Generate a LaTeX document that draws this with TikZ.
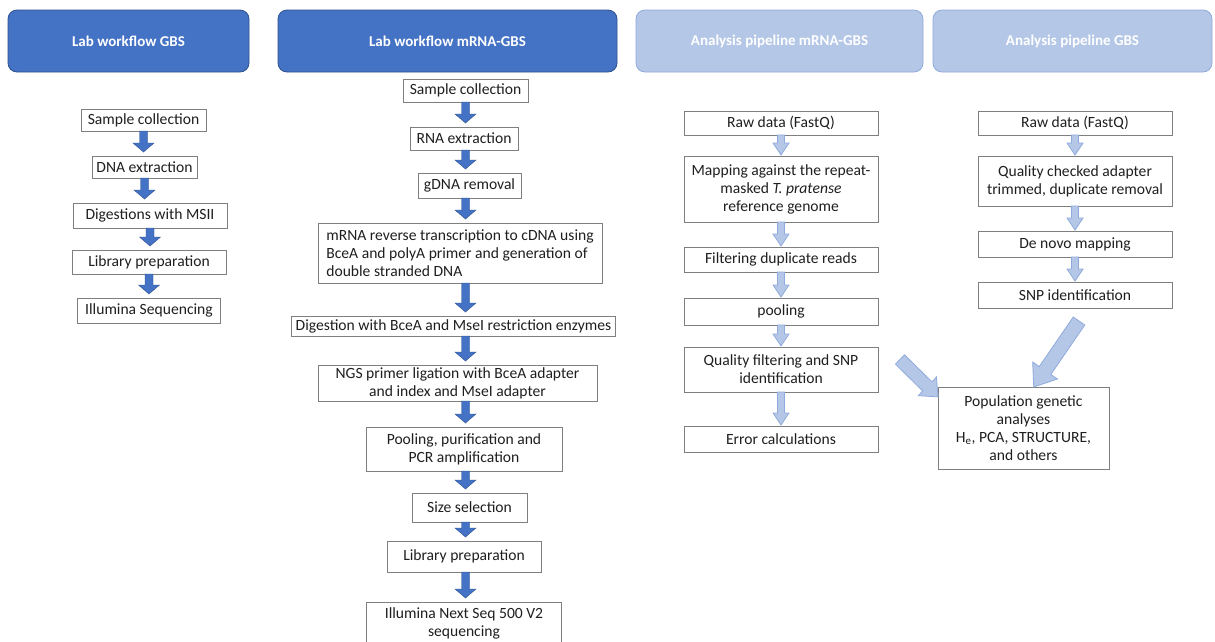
\documentclass[tikz,border=0pt]{standalone}
\usepackage{fontspec}
\setmainfont{Carlito}
\usepackage{tikz}
\usetikzlibrary{positioning,calc}
\definecolor{labblue}{HTML}{4472C4}
\definecolor{labedge}{HTML}{2F528F}
\definecolor{anablue}{HTML}{B4C7E7}
\definecolor{anaedge}{HTML}{8FAADC}
\definecolor{boxedge}{HTML}{7F7F7F}
\definecolor{boxtext}{HTML}{1F1F1F}
\tikzset{%
  fat shaft/.store in=\fatshaft, fat head/.store in=\fathead,
  fat len/.store in=\fatlen, fat gap/.store in=\fatgap,
  fat shaft=3.5pt, fat head=8pt, fat len=11pt, fat gap=0pt,
  fat/.style={to path={
      ($(\tikztotarget)!\fatgap!(\tikztostart)$) coordinate (fat-b)
      ($(fat-b)!\fatlen!(\tikztostart)$) coordinate (fat-c)
      ($(\tikztostart)!\fatshaft!90:(fat-b)$)
      -- ($(fat-c)!\fatshaft!90:(fat-b)$) -- ($(fat-c)!\fathead!90:(fat-b)$)
      -- (fat-b)
      -- ($(fat-c)!\fathead!-90:(fat-b)$) -- ($(fat-c)!\fatshaft!-90:(fat-b)$)
      -- ($(\tikztostart)!\fatshaft!-90:(fat-b)$) -- cycle}}%
}

\begin{document}
\begin{tikzpicture}[
    x=1pt, y=-1pt,
    box/.style={
        draw=boxedge,
        line width=0.8pt,
        fill=white,
        text=boxtext,
        align=center,
        inner xsep=4pt,
        inner ysep=2pt,
        outer sep=0pt,
        font=\fontsize{15.6}{18}\selectfont
    },
    head/.style={
        draw=labedge,
        fill=labblue,
        line width=0.8pt,
        rounded corners=9pt,
        text=white,
        minimum height=62pt,
        font=\bfseries\fontsize{15}{18}\selectfont
    },
    anahead/.style={head, draw=anaedge, fill=anablue},
    darrow/.style={fat, draw=labedge, fill=labblue, line width=0.4pt,
        fat shaft=4pt, fat head=10.5pt, fat len=9pt, fat gap=4pt},
    larrow/.style={fat, draw=anaedge, fill=anablue, line width=0.8pt,
        fat shaft=3.5pt, fat head=8pt, fat len=12pt, fat gap=1pt},
    bigarrow/.style={larrow, fat shaft=7pt, fat head=15pt, fat len=20pt, fat gap=0pt}
]
\fill[white] (0,0) rectangle (1215,641);
\useasboundingbox (0,0) rectangle (1215,641);

\node[head, minimum width=241pt] (hlab) at (128.5,41) {Lab workflow GBS};
\node[head, minimum width=339pt] (hmrna) at (447.5,41) {Lab workflow mRNA-GBS};
\node[anahead, minimum width=287pt] (hanam) at (779.5,41) {Analysis pipeline mRNA-GBS};
\node[anahead, minimum width=279pt] (hanag) at (1072.5,41) {Analysis pipeline GBS};

\node[box, anchor=north, minimum width=125pt, minimum height=22pt] (gsample) at (143.5,109)
{Sample collection};
\node[box, below=25pt of gsample, minimum width=105pt, minimum height=22pt, xshift=1pt] (gdna)
{DNA extraction};
\node[box, below=25pt of gdna, minimum width=154pt, minimum height=25pt, xshift=5.5pt] (gdigest)
{Digestions with MSII};
\node[box, below=22pt of gdigest, minimum width=154pt, minimum height=24pt, xshift=-1pt] (glib)
{Library preparation};
\node[box, below=24pt of glib, minimum width=143pt, minimum height=25pt] (gseq)
{Illumina Sequencing};

\node[box, anchor=north, minimum width=125pt, minimum height=23pt] (msample) at (465.5,79)
{Sample collection};
\node[box, below=25pt of msample, minimum width=108pt, minimum height=23pt, xshift=-1.5pt] (mrna)
{RNA extraction};
\node[box, below=23pt of mrna, minimum width=103pt, minimum height=25pt, xshift=5.5pt] (mgdna)
{gDNA removal};
\node[box, below=25pt of mgdna, minimum width=284pt, minimum height=60pt, align=left, xshift=-9.5pt] (mrt)
{mRNA reverse transcription to cDNA using\\BceA and polyA primer and generation of\\double stranded DNA};
\node[box, below=33pt of mrt, minimum width=323pt, minimum height=20pt, xshift=-6.5pt] (mdigest)
{Digestion with BceA and MseI restriction enzymes};
\node[box, below=29pt of mdigest, minimum width=279pt, minimum height=36pt, xshift=4pt] (mligate)
{NGS primer ligation with BceA adapter\\and index and MseI adapter};
\node[box, below=26pt of mligate, minimum width=196pt, minimum height=44pt, xshift=6.5pt] (mpool)
{Pooling, purification and\\PCR amplification};
\node[box, below=22pt of mpool, minimum width=115pt, minimum height=29pt, xshift=5.5pt] (msize)
{Size selection};
\node[box, below=19pt of msize, minimum width=154pt, minimum height=31pt, xshift=-5.5pt] (mlib)
{Library preparation};
\node[box, below=30pt of mlib, minimum width=195pt, minimum height=45pt] (mseq)
{\rule{0pt}{14pt}Illumina Next Seq 500 V2\\sequencing\rule[-16pt]{0pt}{16pt}};

% analysis pipelines
\node[box, anchor=north, minimum width=194pt, minimum height=24pt] (araw) at (781,111)
{Raw data (FastQ)};
\node[box, below=21pt of araw, minimum width=194pt, minimum height=66pt] (amap)
{Mapping against the repeat-\\masked \textit{T. pratense}\\reference genome};
\node[box, below=25pt of amap, minimum width=194pt, minimum height=25pt] (afilter)
{Filtering duplicate reads};
\node[box, below=26pt of afilter, minimum width=194pt, minimum height=27pt] (apool)
{pooling};
\node[box, below=22pt of apool, minimum width=194pt, minimum height=45pt] (aqual)
{Quality filtering and SNP\\identification};
\node[box, below=34pt of aqual, minimum width=194pt, minimum height=26pt] (aerror)
{Error calculations};

\node[box, anchor=north, minimum width=194pt, minimum height=24pt] (braw) at (1075,111)
{Raw data (FastQ)};
\node[box, below=21pt of braw, minimum width=194pt, minimum height=50pt] (bqual)
{Quality checked adapter\\trimmed, duplicate removal};
\node[box, below=25pt of bqual, minimum width=194pt, minimum height=26pt] (bnovo)
{De novo mapping};
\node[box, below=25pt of bnovo, minimum width=194pt, minimum height=26pt] (bsnp)
{SNP identification};
\node[box, below=79pt of bsnp, minimum width=171pt, minimum height=82pt, xshift=-51.5pt] (popgen)
{Population genetic\\analyses\\H\textsubscript{e}, PCA, STRUCTURE,\\and others};

\coordinate (qtail) at ($(aqual.east)+(22,-10)$);
\coordinate (stail) at ($(bsnp.south)+(4,13)$);

\draw[darrow] (gsample.south) to (gsample.south |- gdna.north);
\draw[darrow] (gdna.south) to (gdna.south |- gdigest.north);
\draw[darrow] (gdigest.south) to (gdigest.south |- glib.north);
\draw[darrow] (glib.south) to (glib.south |- gseq.north);

\draw[darrow] (msample.south) to (msample.south |- mrna.north);
\draw[darrow] (mrna.south -| msample.south) to (msample.south |- mgdna.north);
\draw[darrow] (mgdna.south -| msample.south) to (msample.south |- mrt.north);
\draw[darrow] (mrt.south -| msample.south) to (msample.south |- mdigest.north);
\draw[darrow] (mdigest.south -| msample.south) to (msample.south |- mligate.north);
\draw[darrow] (mligate.south -| msample.south) to (msample.south |- mpool.north);
\draw[darrow] (mpool.south -| msample.south) to (msample.south |- msize.north);
\draw[darrow] (msize.south -| msample.south) to (msample.south |- mlib.north);
\draw[darrow] (mlib.south -| msample.south) to (msample.south |- mseq.north);

\draw[larrow] (araw.south) to (amap.north);
\draw[larrow] (amap.south) to (afilter.north);
\draw[larrow] (afilter.south) to (apool.north);
\draw[larrow] (apool.south) to (aqual.north);
\draw[larrow] (aqual.south) to (aerror.north);

\draw[larrow] (braw.south) to (bqual.north);
\draw[larrow] (bqual.south) to (bnovo.north);
\draw[larrow] (bnovo.south) to (bsnp.north);

\draw[bigarrow, fat shaft=6.5pt, fat head=13pt, fat len=15pt] (qtail) to (popgen.160);
\draw[bigarrow] (stail) to (popgen.76);

\end{tikzpicture}
\end{document}
